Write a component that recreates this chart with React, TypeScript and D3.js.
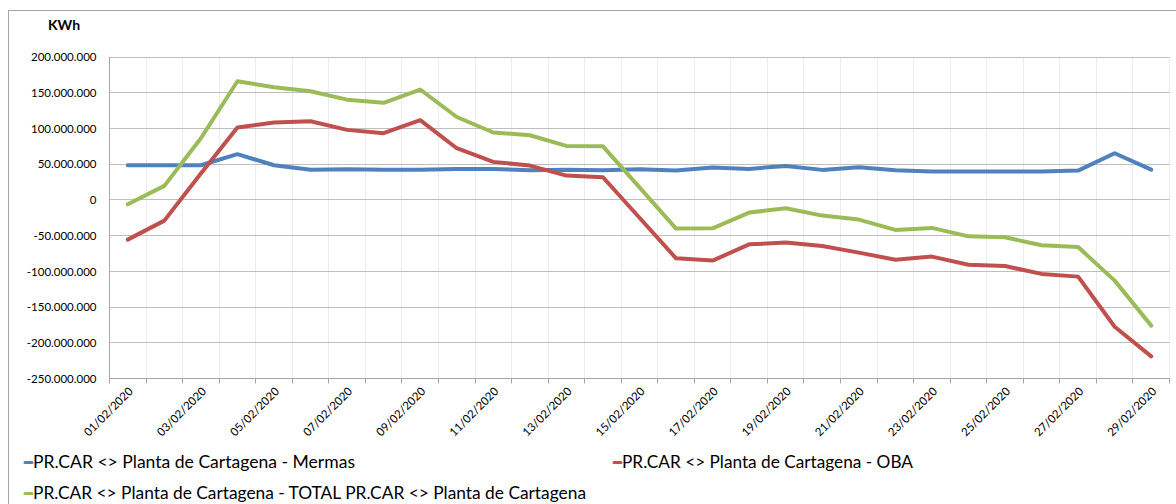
import React from 'react';
import * as d3 from 'd3';

const dates: string[] = [
  '01/02/2020', '02/02/2020', '03/02/2020', '04/02/2020', '05/02/2020', '06/02/2020',
  '07/02/2020', '08/02/2020', '09/02/2020', '10/02/2020', '11/02/2020', '12/02/2020',
  '13/02/2020', '14/02/2020', '15/02/2020', '16/02/2020', '17/02/2020', '18/02/2020',
  '19/02/2020', '20/02/2020', '21/02/2020', '22/02/2020', '23/02/2020', '24/02/2020',
  '25/02/2020', '26/02/2020', '27/02/2020', '28/02/2020', '29/02/2020',
];

const mermas: number[] = [
  48.5e6, 48.5e6, 48.5e6, 64e6, 48.5e6, 42.3e6, 42.9e6, 42.3e6, 42.3e6, 43.4e6,
  43.4e6, 41.5e6, 42.3e6, 41.5e6, 42.9e6, 41.0e6, 45.2e6, 43.4e6, 47.5e6, 42.0e6,
  45.6e6, 41.5e6, 39.6e6, 39.6e6, 39.6e6, 39.6e6, 41.0e6, 65.3e6, 42.4e6,
];

const oba: number[] = [
  -55.6e6, -29e6, 37e6, 101.3e6, 108.2e6, 110e6, 98e6, 93.3e6, 111.6e6, 72.3e6,
  53.2e6, 48e6, 34e6, 31.7e6, -25e6, -81.8e6, -85e6, -62.2e6, -59.8e6, -64.5e6,
  -73.8e6, -83.7e6, -79.4e6, -90.8e6, -92.6e6, -103.6e6, -107.4e6, -177.5e6, -219e6,
];

const total: number[] = [
  -6.2e6, 19.6e6, 86.3e6, 166e6, 157.7e6, 152e6, 140.3e6, 135.8e6, 154.5e6, 116e6,
  94.3e6, 90.5e6, 75.6e6, 75e6, 17.5e6, -40.2e6, -39.8e6, -17.8e6, -11.8e6, -22e6,
  -27.6e6, -42e6, -39.2e6, -51e6, -52.4e6, -63.5e6, -66e6, -113e6, -176e6,
];

const yTicks: number[] = [200e6, 150e6, 100e6, 50e6, 0, -50e6, -100e6, -150e6, -200e6, -250e6];

const seriesNames: string[] = [
  'PR.CAR <> Planta de Cartagena - Mermas',
  'PR.CAR <> Planta de Cartagena - OBA',
  'PR.CAR <> Planta de Cartagena - TOTAL PR.CAR <> Planta de Cartagena',
];
const seriesColors: string[] = ['#4F81BD', '#C0504D', '#9BBB59'];
const unitLabel = 'KWh';

export default function App() {
  const W = 1176, H = 504;
  const left = 109.5, right = 1169.5, top = 57, bottom = 378.5;
  const x = d3.scaleBand<string>().domain(dates).range([left, right]).padding(0);
  const bw = x.bandwidth();
  const y = d3.scaleLinear().domain([-250e6, 200e6]).range([bottom, top]);
  const fmt = d3
    .formatLocale({ decimal: ',', thousands: '.', grouping: [3], currency: ['', ''], minus: '-' })
    .format(',.0f');
  const cx = (d: string) => (x(d) as number) + bw / 2;
  const line = d3
    .line<number>()
    .x((_, i) => cx(dates[i]))
    .y((v) => y(v));
  const series = [mermas, oba, total];
  const font = "Lato, 'Liberation Sans', Arial, sans-serif";
  const boundaries = d3.range(dates.length + 1).map((k) => left + k * bw);
  const crisp = (v: number) => Math.round(v - 0.5) + 0.5;

  const legendItems = [
    { i: 0, x: 23, y: 468, len: 322 },
    { i: 1, x: 612, y: 468, len: 291 },
    { i: 2, x: 23, y: 499, len: 553 },
  ];

  return (
    <svg
      width={W}
      height={H}
      style={{ position: 'absolute', left: 0, top: 0, background: '#fff' }}
      fontFamily={font}
    >
      <rect x={8.5} y={10.5} width={1300} height={700} fill="#fff" stroke="#a6a6a6" strokeWidth={1} />
      <text x={48} y={30} fontSize={14} fontWeight="bold" fill="#000">
        {unitLabel}
      </text>
      {/* vertical gridlines */}
      {boundaries.slice(1).map((bx, k) => (
        <line key={'vg' + k} x1={crisp(bx)} x2={crisp(bx)} y1={top} y2={bottom} stroke="#ececec" strokeWidth={1} />
      ))}
      {/* horizontal gridlines */}
      {yTicks.map((t) => (
        <line key={'hg' + t} x1={left} x2={right} y1={crisp(y(t))} y2={crisp(y(t))} stroke="#bfbfbf" strokeWidth={1} />
      ))}
      {/* axes */}
      <line x1={crisp(left)} x2={crisp(left)} y1={top} y2={bottom} stroke="#a6a6a6" />
      <line x1={left} x2={right} y1={crisp(bottom)} y2={crisp(bottom)} stroke="#a6a6a6" />
      {boundaries.map((bx, k) => (
        <line key={'tk' + k} x1={crisp(bx)} x2={crisp(bx)} y1={crisp(bottom)} y2={crisp(bottom) + 5} stroke="#a6a6a6" />
      ))}
      {/* y labels */}
      {yTicks.map((t) => (
        <text key={'yl' + t} x={96.5} y={y(t) + 4.3} fontSize={11.5} textAnchor="end" fill="#000">
          {fmt(t)}
        </text>
      ))}
      {/* x labels */}
      {dates.map((d, i) =>
        i % 2 === 0 ? (
          <text
            key={'xl' + d}
            transform={`translate(${cx(d) + 6},${392}) rotate(-45)`}
            fontSize={11.5}
            textAnchor="end"
            fill="#000"
          >
            {d}
          </text>
        ) : null
      )}
      {/* lines */}
      {series.map((s, i) => (
        <path
          key={'s' + i}
          d={line(s) as string}
          fill="none"
          stroke={seriesColors[i]}
          strokeWidth={4}
          strokeLinejoin="round"
          strokeLinecap="round"
        />
      ))}
      {/* legend */}
      {legendItems.map((it) => (
        <g key={'lg' + it.i}>
          <line
            x1={it.x + 2}
            x2={it.x + 9}
            y1={it.y - 5.5}
            y2={it.y - 5.5}
            stroke={seriesColors[it.i]}
            strokeWidth={3}
            strokeLinecap="round"
          />
          <text
            x={it.x + 10}
            y={it.y}
            fontSize={17}
            textLength={it.len}
            lengthAdjust="spacingAndGlyphs"
            fill="#000"
          >
            {seriesNames[it.i]}
          </text>
        </g>
      ))}
    </svg>
  );
}
